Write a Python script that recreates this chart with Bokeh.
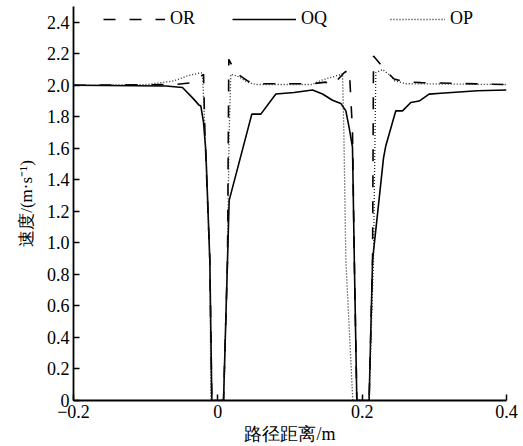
from bokeh.plotting import figure
from bokeh.models import Range1d, FixedTicker, CustomJSTickFormatter, Legend, LegendItem
from bokeh.embed import file_html
from bokeh.resources import INLINE

# ---- data ----
OR_x = [-0.2, -0.06, -0.035, -0.0198, -0.018, -0.0111, -0.0083, 0.0079, 0.0134, 0.0152,
        0.0249, 0.0412, 0.0499, 0.1312, 0.1496, 0.1589, 0.175, 0.1822, 0.1866, 0.1891,
        0.1926, 0.2096, 0.2144, 0.2157, 0.2351, 0.2443, 0.2581, 0.2813, 0.4]
OR_y = [2.0, 2.005, 2.017, 2.07, 1.71, 0.89, 0.0, 0.0, 0.89, 2.165,
        2.08, 2.028, 2.01, 2.01, 2.02, 2.0, 2.08, 2.1, 1.71, 0.89,
        0.0, 0.0, 0.89, 2.186, 2.08, 2.04, 2.023, 2.017, 2.005]

OQ_x = [-0.2, -0.072, -0.049, -0.035, -0.026, -0.0236, -0.0198, -0.0166, -0.0111, -0.0083,
        0.0079, 0.0134, 0.0157, 0.0471, 0.0596, 0.0804, 0.1057, 0.1312, 0.1451, 0.1589,
        0.1704, 0.1774, 0.1819, 0.1866, 0.1891, 0.1926, 0.2096, 0.2144, 0.2296, 0.2328,
        0.2466, 0.2559, 0.2674, 0.2789, 0.2928, 0.309, 0.3597, 0.4]
OQ_y = [2.0, 1.996, 1.986, 1.92, 1.874, 1.87, 1.764, 1.58, 0.89, 0.0,
        0.0, 0.89, 1.27, 1.817, 1.817, 1.945, 1.954, 1.97, 1.945, 1.905,
        1.885, 1.838, 1.733, 1.606, 0.9, 0.0, 0.0, 0.89, 1.54, 1.617,
        1.838, 1.838, 1.891, 1.90, 1.944, 1.95, 1.965, 1.97]

OP_x = [-0.2, -0.0974, -0.0606, -0.042, -0.0236, -0.0212, -0.0166, -0.0111, -0.0097, 0.0079,
        0.0134, 0.0157, 0.018, 0.0263, 0.0412, 0.0527, 0.131, 0.142, 0.168, 0.1728,
        0.1746, 0.1774, 0.187, 0.2096, 0.2157, 0.2189, 0.2282, 0.2397, 0.2443, 0.26, 0.4]
OP_y = [2.0, 2.005, 2.028, 2.06, 2.08, 2.075, 1.58, 0.89, 0.0, 0.0,
        0.9, 1.7, 2.07, 2.06, 2.02, 2.005, 2.005, 2.03, 2.065, 2.075,
        1.71, 0.89, 0.0, 0.0, 0.9, 2.08, 2.1, 2.06, 2.03, 2.01, 2.005]

x_ticks = [-0.2, 0.0, 0.2, 0.4]
y_ticks = [0.0, 0.2, 0.4, 0.6, 0.8, 1.0, 1.2, 1.4, 1.6, 1.8, 2.0, 2.2, 2.4]
series_names = ["OR", "OQ", "OP"]
x_label = "路径距离/m"
y_label = "速度/(m·s⁻¹)"

FONT = "Liberation Serif"

p = figure(width=523, height=446, output_backend="svg", toolbar_location=None,
           x_range=Range1d(-0.2, 0.4), y_range=Range1d(0, 2.5),
           min_border_left=73, min_border_right=17, min_border_top=6, min_border_bottom=45)
p.background_fill_color = "white"
p.outline_line_color = None
p.xgrid.grid_line_color = None
p.ygrid.grid_line_color = None

r_or = p.line(OR_x, OR_y, line_color="black", line_width=1.6, line_dash="12 14")
r_oq = p.line(OQ_x, OQ_y, line_color="black", line_width=1.6)
r_op = p.line(OP_x, OP_y, line_color="#222222", line_width=1.3, line_dash="1 2")

fmt = CustomJSTickFormatter(code="""
if (Math.abs(tick) < 1e-9) return "0";
if (tick < 0) return "\\u2212" + (-tick).toFixed(1);
return tick.toFixed(1);
""")

for ax in (p.xaxis[0], p.yaxis[0]):
    ax.formatter = fmt
    ax.axis_line_color = "black"
    ax.axis_line_width = 1.8
    ax.major_tick_line_color = "black"
    ax.major_tick_line_width = 1.5
    ax.major_tick_in = 6
    ax.major_tick_out = 0
    ax.minor_tick_line_color = None
    ax.major_label_text_font = FONT
    ax.major_label_text_font_size = "18px"
    ax.major_label_text_color = "black"
    ax.axis_label_text_font = FONT
    ax.axis_label_text_font_style = "normal"
    ax.axis_label_text_color = "black"

p.xaxis[0].ticker = FixedTicker(ticks=x_ticks)
p.yaxis[0].ticker = FixedTicker(ticks=y_ticks)
p.xaxis[0].major_label_standoff = 4
p.yaxis[0].major_label_standoff = 4

p.xaxis[0].axis_label = x_label
p.xaxis[0].axis_label_text_font_size = "18px"
p.xaxis[0].axis_label_standoff = 3

p.yaxis[0].axis_label = y_label
p.yaxis[0].axis_label_text_font_size = "17px"
p.yaxis[0].axis_label_standoff = 8

legend_specs = [(r_or, 30, 62), (r_oq, 159, 64), (r_op, 317, 55)]
for name, (rend, lx, gw) in zip(series_names, legend_specs):
    leg = Legend(items=[LegendItem(label=name, renderers=[rend])],
                 location=(lx, 371), orientation="horizontal",
                 glyph_width=gw, glyph_height=20, label_height=20,
                 label_standoff=5, padding=0, margin=0, spacing=0,
                 label_text_font=FONT, label_text_font_size="18px",
                 label_text_color="black",
                 background_fill_alpha=0, border_line_alpha=0)
    p.add_layout(leg)

open("out.html", "w").write(file_html(p, INLINE))
